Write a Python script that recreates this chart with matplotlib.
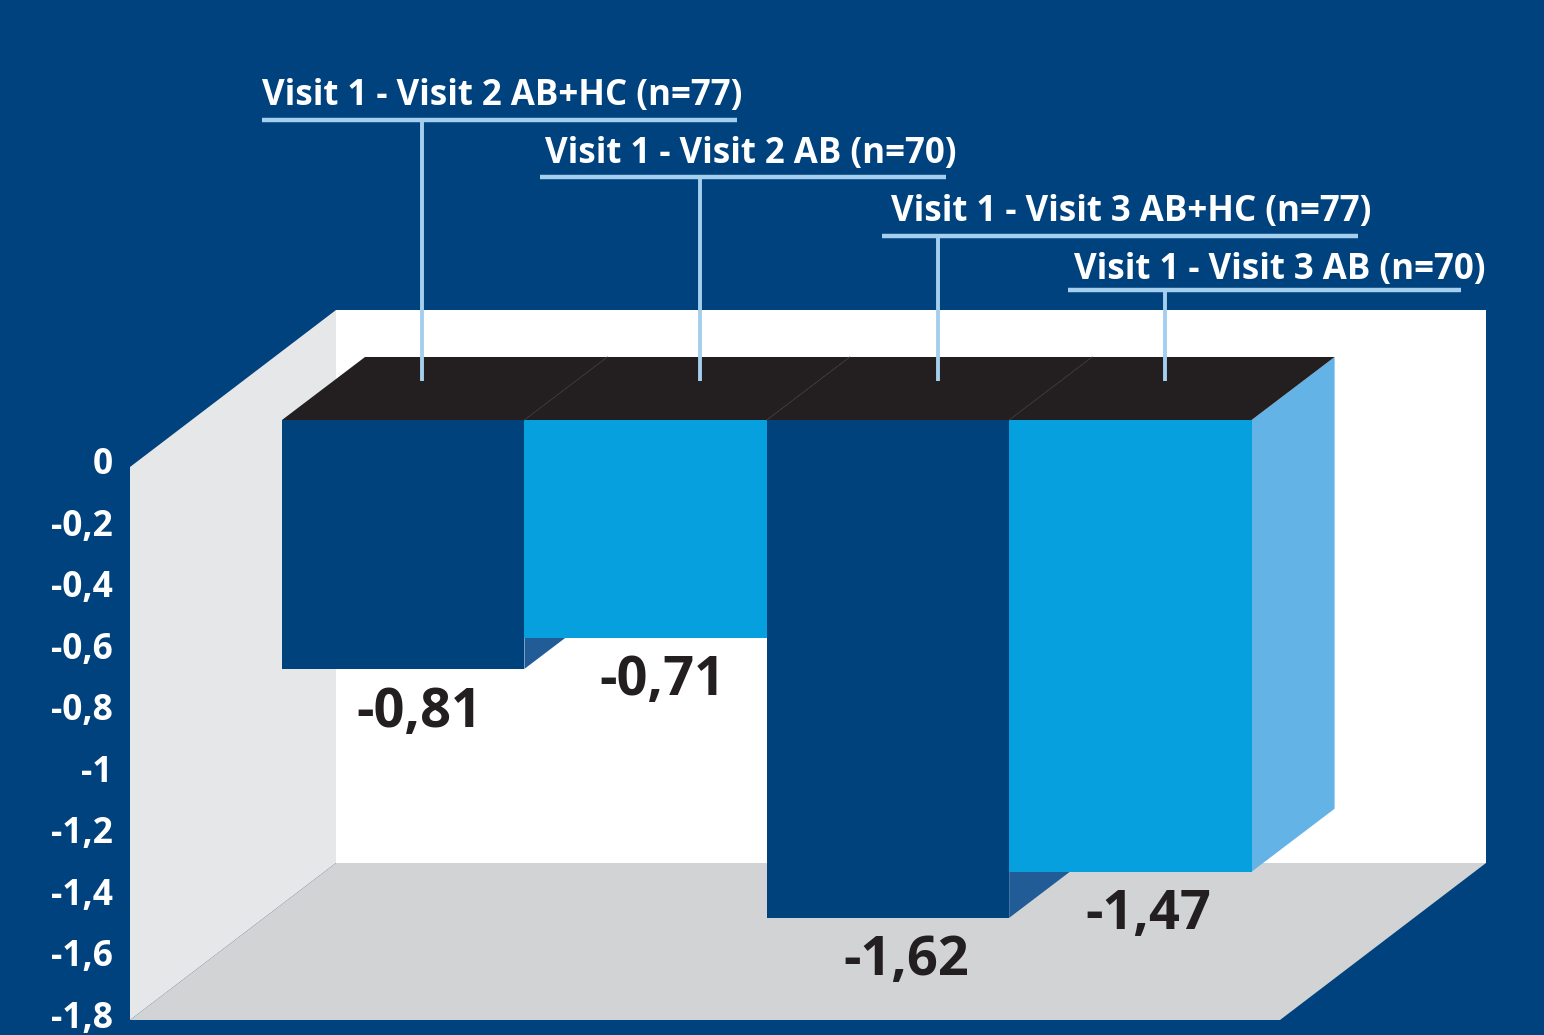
import matplotlib
matplotlib.use("Agg")
import matplotlib.pyplot as plt
from matplotlib.patches import Polygon

# ---- data ----
series_labels = ["Visit 1 - Visit 2 AB+HC (n=77)", "Visit 1 - Visit 2 AB (n=70)",
                 "Visit 1 - Visit 3 AB+HC (n=77)", "Visit 1 - Visit 3 AB (n=70)"]
values = [-0.81, -0.71, -1.62, -1.47]
value_labels = ["-0,81", "-0,71", "-1,62", "-1,47"]
tick_values = [0, -0.2, -0.4, -0.6, -0.8, -1, -1.2, -1.4, -1.6, -1.8]
tick_labels = ["0", "-0,2", "-0,4", "-0,6", "-0,8", "-1", "-1,2", "-1,4", "-1,6", "-1,8"]

# ---- colours ----
BG = "#00427D"
DARK = "#00427C"
LIGHT = "#07A0DE"
DARK_SIDE = "#215C96"
LIGHT_SIDE = "#63B3E6"
TOP = "#231F20"
LEADER = "#A5CFEE"
INK = "#231F20"

plt.rcParams["font.family"] = ["Open Sans", "DejaVu Sans"]

W, H = 1544, 1035
fig = plt.figure(figsize=(W / 100, H / 100), dpi=100, facecolor=BG)
ax = fig.add_axes([0, 0, 1, 1])
ax.set_axis_off()

# one x unit = one bar width, y axis in chart units
PX_X = 242.4
PX_Y = 307.3
X0, Y0 = 282, 420
ax.set_xlim(-X0 / PX_X, (W - X0) / PX_X)
ax.set_ylim((Y0 - H) / PX_Y, Y0 / PX_Y)


def X(px):
    return (px - X0) / PX_X


def Y(py):
    return (Y0 - py) / PX_Y


DX, DY = 83 / PX_X, 63 / PX_Y


def poly(pts, color, z):
    ax.add_patch(Polygon([(X(a), Y(b)) for a, b in pts], closed=True,
                         facecolor=color, edgecolor="none", zorder=z))


# room
poly([(336, 310), (1486, 310), (1486, 863), (336, 863)], "#FFFFFF", 1)
poly([(130, 467), (336, 310), (336, 863), (130, 1020)], "#E6E7E8", 2)
poly([(130, 1020), (336, 863), (1486, 863), (1280, 1020)], "#D1D3D4", 3)

# bars, painted left to right so each front hides the previous side
z = 10
for i, v in enumerate(values):
    front = DARK if i % 2 == 0 else LIGHT
    side = DARK_SIDE if i % 2 == 0 else LIGHT_SIDE
    ax.add_patch(Polygon([(i + 1, 0), (i + 1 + DX, DY), (i + 1 + DX, v + DY), (i + 1, v)],
                         closed=True, facecolor=side, edgecolor="none", zorder=z))
    ax.bar(i, v, width=1, align="edge", color=front, linewidth=0, zorder=z + 1)
    ax.add_patch(Polygon([(i, 0), (i + 1, 0), (i + 1 + DX, DY), (i + DX, DY)],
                         closed=True, facecolor=TOP, edgecolor="none", zorder=z + 1))
    z += 2
for i in range(1, len(values)):
    ax.plot([i, i + DX], [0, DY], color="#38363A", lw=0.6, zorder=z)

# callouts
label_x = [262, 545, 891, 1074]
label_y = [92, 150, 208, 266]
rule_x = [(262, 737), (540, 946), (882, 1358), (1068, 1461)]
rule_y = [120, 177, 236, 290]
leader_x = [422, 700, 938, 1165]
for s, lx, ly, (r0, r1), ry, qx in zip(series_labels, label_x, label_y, rule_x, rule_y, leader_x):
    ax.text(X(lx), Y(ly), s, color="white", fontsize=25.15, fontweight="bold",
            ha="left", va="center_baseline", zorder=40)
    ax.plot([X(r0), X(r1)], [Y(ry), Y(ry)], color=LEADER, lw=3.2, solid_capstyle="butt", zorder=40)
    ax.plot([X(qx), X(qx)], [Y(ry), Y(381)], color=LEADER, lw=2.8, solid_capstyle="butt", zorder=40)

# value labels
val_x = [419, 662, 906, 1148]
val_y = [706, 675, 954, 908]
for s, vx, vy in zip(value_labels, val_x, val_y):
    ax.text(X(vx), Y(vy), s, color=INK, fontsize=39, fontweight="bold",
            ha="center", va="center_baseline", zorder=41)

# axis tick labels, sitting on the front edge of the wall
for v, s in zip(tick_values, tick_labels):
    ax.text(X(113), v + Y(461), s, color="white", fontsize=25.5, fontweight="bold",
            ha="right", va="center_baseline", zorder=41)

fig.savefig("out.png", dpi=100, facecolor=BG)
